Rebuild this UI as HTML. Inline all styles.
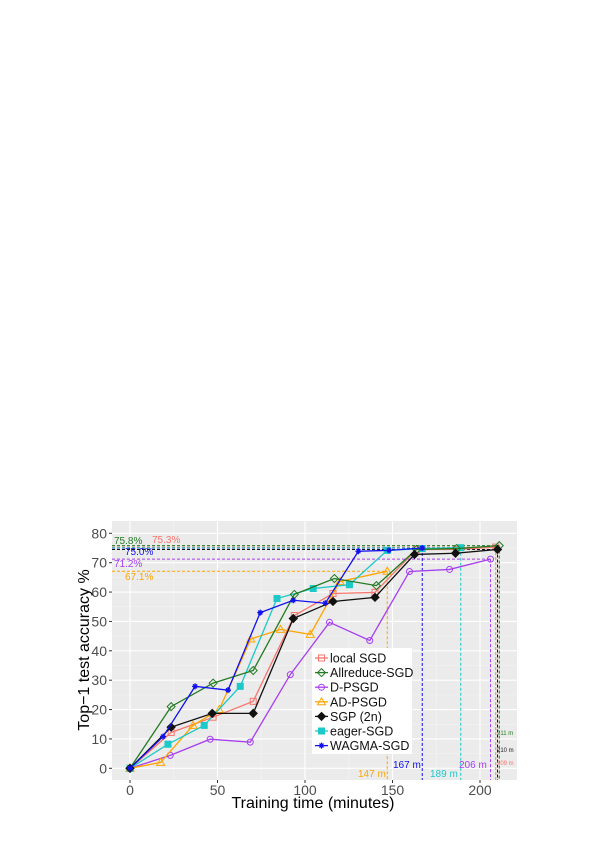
<!DOCTYPE html>
<html><head><meta charset="utf-8"><style>
body{margin:0;background:#fff;width:602px;height:851px;overflow:hidden}
svg{display:block;font-family:"Liberation Sans",sans-serif}
</style></head><body>
<svg id="chart" width="602" height="851"></svg>
<script>
const categories=["local SGD","Allreduce-SGD","D-PSGD","AD-PSGD","SGP (2n)","eager-SGD","WAGMA-SGD"];
const colors=["#f8766d","#237a23","#a63ff0","#ffa500","#111111","#1cc8c8","#1111ee"];
const markers=["square","diamond","circle","triangle","star","boxx","asterisk"];
const times_local=[0,23.5,47.5,70.4,93.9,116,140,163.7,186.6,209];
const acc_local=[0,12.2,17.4,22.8,52,59.5,59.9,74.5,74.5,75.3];
const times_allreduce=[0,23.5,47.5,70.4,93.9,116.8,140.8,163.7,186.6,211];
const acc_allreduce=[0,21,29,33.3,59.2,64.6,62.2,74.5,74.8,75.8];
const times_dpsgd=[0,23,45.8,68.7,91.6,114,137,159.7,182.6,206];
const acc_dpsgd=[0,4.4,9.9,8.9,31.9,49.7,43.5,67,67.7,71.2];
const times_adpsgd=[0,17.5,36,51,69,86,103,120,147];
const acc_adpsgd=[0,2,14.6,20,44,47.3,45.6,63.6,67.1];
const times_sgp=[0,23.5,47,70.4,93.3,116,140,162.6,186,210];
const acc_sgp=[0,14,18.7,18.7,51,56.8,58.2,72.8,73.2,74.5];
const times_eager=[0,21.7,42.4,63,84,104.7,125.4,147,167,189];
const acc_eager=[0,8.2,14.6,27.9,57.8,61.2,62.5,74.2,74.8,75.1];
const times_wagma=[0,18.9,37.2,56,74.4,93.3,111.6,130.5,148,167];
const acc_wagma=[0,10.8,27.9,26.6,53,57.2,56.2,73.9,74.2,75.0];
const xTicks=[0,50,100,150,200];
const yTicks=[0,10,20,30,40,50,60,70,80];

const svg=document.getElementById('chart');
const NS="http://www.w3.org/2000/svg";
const PL=112,PR=517,PT=521,PB=780;
const X0=130,XS=1.75,Y0=768.3,YS=2.9375;
function sx(v){return X0+v*XS}
function sy(v){return Y0-v*YS}
function el(tag,attrs,parent){const e=document.createElementNS(NS,tag);for(const k in attrs)e.setAttribute(k,attrs[k]);(parent||svg).appendChild(e);return e}

const bg=el('rect',{x:PL,y:PT,width:PR-PL,height:PB-PT,fill:'#ebebeb'});


// minor grid
for(let v=5;v<80;v+=10){const g=el('line',{x1:PL,x2:PR,y1:sy(v),y2:sy(v),stroke:'#f5f5f5','stroke-width':0.6});

}
for(let v=25;v<=225;v+=50){if(sx(v)>PR)continue;const g=el('line',{x1:sx(v),x2:sx(v),y1:PT,y2:PB,stroke:'#f5f5f5','stroke-width':0.6});

}
yTicks.forEach(v=>{const g=el('line',{x1:PL,x2:PR,y1:sy(v),y2:sy(v),stroke:'#fff','stroke-width':1.1});


const t=el('line',{x1:PL-3,x2:PL,y1:sy(v),y2:sy(v),stroke:'#333'});


const l=el('text',{x:PL-5,y:sy(v)+5,'text-anchor':'end','font-size':14,fill:'#4d4d4d'});l.textContent=v;

});
xTicks.forEach(v=>{const g=el('line',{x1:sx(v),x2:sx(v),y1:PT,y2:PB,stroke:'#fff','stroke-width':1.1});


const t=el('line',{x1:sx(v),x2:sx(v),y1:PB,y2:PB+3,stroke:'#333'});


const l=el('text',{x:sx(v),y:PB+15,'text-anchor':'middle','font-size':14,fill:'#4d4d4d'});l.textContent=v;

});

const series=[[times_local,acc_local],[times_allreduce,acc_allreduce],[times_dpsgd,acc_dpsgd],[times_adpsgd,acc_adpsgd],[times_sgp,acc_sgp],[times_eager,acc_eager],[times_wagma,acc_wagma]];
// reference dashed lines
const refOrder=[3,2,6,0,1,5,4];
refOrder.forEach(i=>{const [t,a]=series[i];const xe=t[t.length-1],ye=a[a.length-1];
const h=el('line',{x1:PL,x2:sx(xe),y1:sy(ye),y2:sy(ye),stroke:colors[i],'stroke-width':1,'stroke-dasharray':'3,2'});


const v=el('line',{x1:sx(xe),x2:sx(xe),y1:sy(ye),y2:PB,stroke:colors[i],'stroke-width':1,'stroke-dasharray':'3,2'});

});

function marker(kind,x,y,c,g){
 const s=3;
 if(kind==='square')el('rect',{x:x-s,y:y-s,width:2*s,height:2*s,fill:'none',stroke:c},g);
 else if(kind==='diamond')el('polygon',{points:`${x},${y-s-1} ${x+s+1},${y} ${x},${y+s+1} ${x-s-1},${y}`,fill:'none',stroke:c},g);
 else if(kind==='circle')el('circle',{cx:x,cy:y,r:s,fill:'none',stroke:c},g);
 else if(kind==='triangle')el('polygon',{points:`${x},${y-s-1} ${x+s+1},${y+s} ${x-s-1},${y+s}`,fill:'none',stroke:c},g);
 else if(kind==='star'){el('polygon',{points:`${x},${y-s-1} ${x+s+1},${y} ${x},${y+s+1} ${x-s-1},${y}`,fill:c,stroke:c},g);}
 else if(kind==='boxx'){el('rect',{x:x-s,y:y-s,width:2*s,height:2*s,fill:c,stroke:c},g);}
 else {el('path',{d:`M${x-s} ${y}H${x+s}M${x} ${y-s}V${y+s}M${x-s+1} ${y-s+1}L${x+s-1} ${y+s-1}M${x-s+1} ${y+s-1}L${x+s-1} ${y-s+1}`,stroke:c,'stroke-width':1.3},g);}
}
const drawOrder=[0,2,3,5,1,4,6];
drawOrder.forEach(i=>{const [t,a]=series[i];
 const g=el('g',{});
 
 
 el('polyline',{points:t.map((v,k)=>sx(v)+','+sy(a[k])).join(' '),fill:'none',stroke:colors[i],'stroke-width':1.3},g);
 t.forEach((v,k)=>marker(markers[i],sx(v),sy(a[k]),colors[i],g));
});

// annotations
const ann=[["75.8%",114,544,colors[1],10],["75.3%",152,543,colors[0],10],["75.0%",125,555,colors[6],10],["71.2%",114,567,colors[2],10],["67.1%",125,580,colors[3],10],
["147 m",358,777,colors[3],10],["167 m",393,768,colors[6],10],["189 m",430,777,colors[5],10],["206 m",459,768,colors[2],10],
["211 m",497,735,colors[1],6],["210 m",497,752,'#222',6],["209 m",497,765,colors[0],6]];
ann.forEach(a=>{const t=el('text',{x:a[1],y:a[2],'font-size':a[4],fill:a[3]});t.textContent=a[0];

});

// legend
const lg=el('g',{});


el('rect',{x:312,y:648,width:100,height:106,fill:'#fff'},lg);
categories.forEach((c,i)=>{const y=658+i*14.6;
 const e=el('g',{},lg);
 
 
 el('line',{x1:315,x2:328,y1:y,y2:y,stroke:colors[i],'stroke-width':1.3},e);
 marker(markers[i],321.5,y,colors[i],e);
 const t=el('text',{x:330,y:y+4.5,'font-size':12.5,fill:'#111'},e);t.textContent=c;});

const yt=el('text',{x:0,y:0,transform:'translate(89,650) rotate(-90)','text-anchor':'middle','font-size':16,fill:'#000'});yt.textContent='Top\u22121 test accuracy %';


const xt=el('text',{x:313,y:808,'text-anchor':'middle','font-size':16,fill:'#000'});xt.textContent='Training time (minutes)';


</script>
</body></html>
